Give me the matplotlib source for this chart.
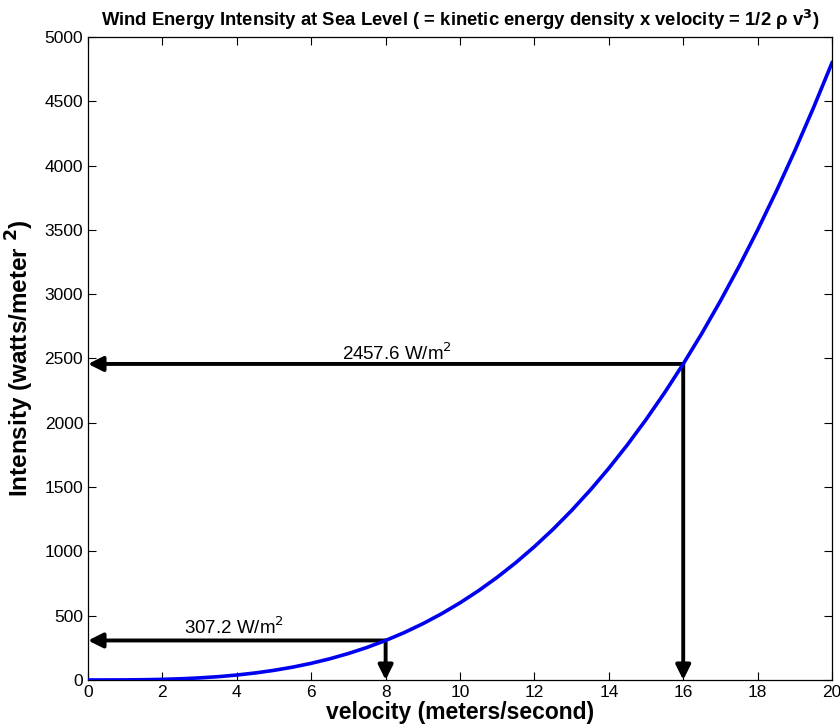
import matplotlib
matplotlib.use("Agg")
import matplotlib.pyplot as plt

velocity = [0, 1, 2, 3, 4, 5, 6, 7, 8, 9, 10, 11, 12, 13, 14, 15, 16, 17, 18, 19, 20,
            0.5, 1.5, 2.5, 3.5, 4.5, 5.5, 6.5, 7.5, 8.5, 9.5, 10.5, 11.5, 12.5, 13.5, 14.5,
            15.5, 16.5, 17.5, 18.5, 19.5]
intensity = [0, 0.6, 4.8, 16.2, 38.4, 75, 129.6, 205.8, 307.2, 437.4, 600, 798.6, 1036.8,
             1318.2, 1646.4, 2025, 2457.6, 2947.8, 3499.2, 4115.4, 4800,
             0.075, 2.03, 9.4, 25.7, 54.7, 99.8, 164.8, 253.1, 368.5, 514.4, 694.6, 912.5,
             1171.9, 1476.2, 1829.3, 2234.4, 2695.0, 3215.6, 3798.9, 4448.9]
pts = sorted(zip(velocity, intensity))
vel_sorted = [p[0] for p in pts]
int_sorted = [p[1] for p in pts]

marked_v = [8, 16]
marked_i = [307.2, 2457.6]
labels = ["307.2 W/m$^2$", "2457.6 W/m$^2$"]
label_pos = [(3.92, 410), (8.3, 2543)]

xticks = list(range(0, 21, 2))
yticks = list(range(0, 5001, 500))

plt.rcParams['font.family'] = ['Liberation Sans', 'DejaVu Sans']
fig = plt.figure(figsize=(8.4, 7.26), dpi=100)
ax = fig.add_axes([0.1048, 0.0634, 0.8857, 0.8856])

ax.plot(vel_sorted, int_sorted, color='#0000f0', lw=2.6, zorder=3)

for v, i, lab, (lx, ly) in zip(marked_v, marked_i, labels, label_pos):
    ax.annotate('', xy=(0, i), xytext=(v, i),
                arrowprops=dict(arrowstyle='-|>', color='black', lw=2.8,
                                mutation_scale=22, shrinkA=0, shrinkB=0), zorder=2)
    ax.annotate('', xy=(v, 0), xytext=(v, i),
                arrowprops=dict(arrowstyle='-|>', color='black', lw=2.8,
                                mutation_scale=22, shrinkA=0, shrinkB=0), zorder=2)
    ax.text(lx, ly, lab, ha='center', va='center', fontsize=13.5)

ax.set_xlim(0, 20)
ax.set_ylim(0, 5000)
ax.set_xticks(xticks)
ax.set_yticks(yticks)
ax.tick_params(direction='in', top=True, right=True, labelsize=12.5, length=6, width=0.8)
for s in ax.spines.values():
    s.set_linewidth(0.9)
ax.set_xlabel('velocity (meters/second)', fontsize=16.5, fontweight='bold', labelpad=1)
ax.set_ylabel('Intensity (watts/meter $^{\\mathbf{2}}$)', fontsize=17.5, fontweight='bold', labelpad=6)
ax.set_title('Wind Energy Intensity at Sea Level ( = kinetic energy density x velocity = 1/2 ρ v$^{\\mathbf{3}}$)',
             fontsize=13.3, fontweight='bold', pad=8)

fig.savefig('out.png', dpi=100)
